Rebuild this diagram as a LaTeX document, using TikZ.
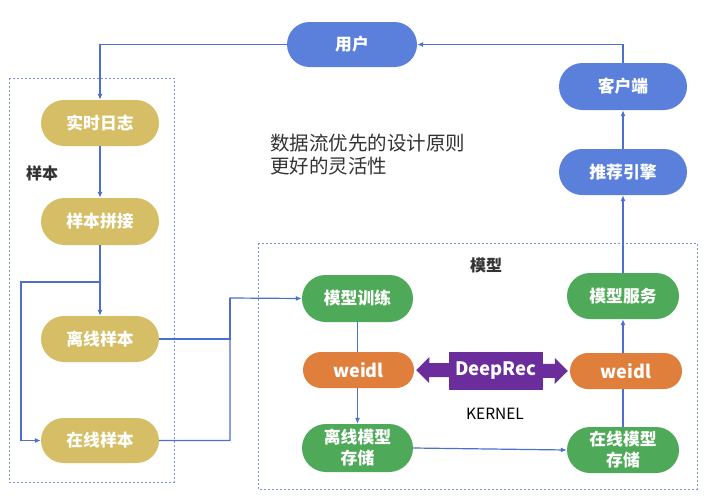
\documentclass[tikz,border=0pt]{standalone}
\usepackage{fontspec}
\setmainfont{Noto Sans CJK SC}
\usetikzlibrary{shapes.misc,arrows.meta,backgrounds}
\definecolor{cblue}{HTML}{5A80DC}
\definecolor{cgold}{HTML}{D6BE66}
\definecolor{cgreen}{HTML}{4EAA58}
\definecolor{corange}{HTML}{E07E3C}
\definecolor{cpurple}{HTML}{6A2D9B}
\definecolor{cline}{HTML}{4C70CC}
\definecolor{cdash}{HTML}{7E92DA}
\definecolor{ctext}{HTML}{333333}
\tikzset{
  pill/.style={rounded rectangle, draw=none, text=white, font=\bfseries\fontsize{16.8}{21}\selectfont, align=center, inner sep=0pt},
  bluepill/.style={pill, fill=cblue, minimum width=128pt, minimum height=46pt},
  goldpill/.style={pill, fill=cgold, minimum width=118pt, minimum height=46pt},
  greenpill/.style={pill, fill=cgreen, minimum width=111pt, minimum height=47pt},
  orangepill/.style={pill, fill=corange, minimum width=111pt, minimum height=36pt, font=\bfseries\fontsize{18}{21}\selectfont},
  flow/.style={draw=cline, line width=1.2pt, -{Latex[length=6pt,width=5pt]}},
  plain/.style={draw=cline, line width=1.2pt},
  groupbox/.style={draw=cdash, line width=0.8pt, dash pattern=on 2pt off 2pt},
  lbl/.style={text=ctext, font=\bfseries\fontsize{16}{20}\selectfont, inner sep=0pt},
}
\begin{document}
\begin{tikzpicture}[x=1pt,y=-1pt]
\useasboundingbox (0,0) rectangle (720,501);
% group boxes
\draw[groupbox] (9,78) rectangle (174,482);
\draw[groupbox] (258,243) rectangle (697,489);
\node[lbl] (labS) at (42,173) {样本};
\node[lbl] (labM) at (486,265) {模型};
% nodes
\node[bluepill, minimum width=130pt, minimum height=45pt] (user) at (352,44.5) {用户};
\node[bluepill, minimum height=47pt] (cli) at (623,86.5) {客户端};
\node[bluepill] (eng) at (623,172) {推荐引擎};
\node[goldpill] (rt) at (100,123) {实时日志};
\node[goldpill, minimum height=47pt] (pj) at (100,221.5) {样本拼接};
\node[goldpill] (lx) at (100,339) {离线样本};
\node[goldpill, minimum height=45pt] (zx) at (100,440.5) {在线样本};
\node[greenpill] (train) at (357.5,298.5) {模型训练};
\node[orangepill] (wl) at (358.5,370) {weidl};
\node[greenpill, minimum height=48pt] (ofs) at (357.5,448) {离线模型\\存储};
\node[greenpill, minimum width=112pt, minimum height=46pt] (serv) at (623,296) {模型服务};
\node[orangepill, minimum width=112pt] (wr) at (626,371) {weidl};
\node[greenpill, minimum width=112pt, minimum height=46pt] (ons) at (623,450) {在线模型\\存储};
% text
\node[anchor=west, text=ctext, font=\fontsize{19.5}{23}\selectfont, align=left, inner sep=0pt] (note) at (270,154.5) {数据流优先的设计原则\\更好的灵活性};
\node[text=black, font=\fontsize{15.5}{18}\selectfont, inner sep=0pt] (kern) at (495,414) {KERNEL};
% connectors behind
\begin{pgfonlayer}{background}
\fill[white] (0,0) rectangle (720,501);
\draw[flow] (train.south) -- (ofs.north);
\draw[flow] (ons.north) -- (serv.south);
\end{pgfonlayer}
\draw[flow] (user.west) -| (rt.north);
\draw[flow] (rt.south) -- (pj.north);
\draw[flow] (pj.south) -- (lx.north);
\coordinate (j1) at (100,282);
\coordinate (j2) at (21,282);
\draw[flow] (j1) -- (j2) |- (zx.west);
\coordinate (m) at (230,298);
\draw[plain] (lx.east) -| (m);
\draw[flow] (zx.east) -| (m) -- (train.west);
\draw[flow] (ofs.east) -- (ons.west);
\draw[flow] (serv.north) -- (eng.south);
\draw[flow] (eng.north) -- (cli.south);
\draw[flow] (cli.north) |- (user.east);
% DeepRec double arrow
\draw[cpurple, line width=14pt, {Triangle[length=13pt,width=25pt]}-{Triangle[length=13pt,width=25pt]}] ([xshift=2pt]wl.east) -- ([xshift=-2pt]wr.west);
\node[fill=cpurple, text=white, minimum width=94pt, minimum height=38pt, inner sep=0pt, font=\bfseries\fontsize{18.5}{21}\selectfont] (deep) at (496,371) {DeepRec};
\end{tikzpicture}
\end{document}
